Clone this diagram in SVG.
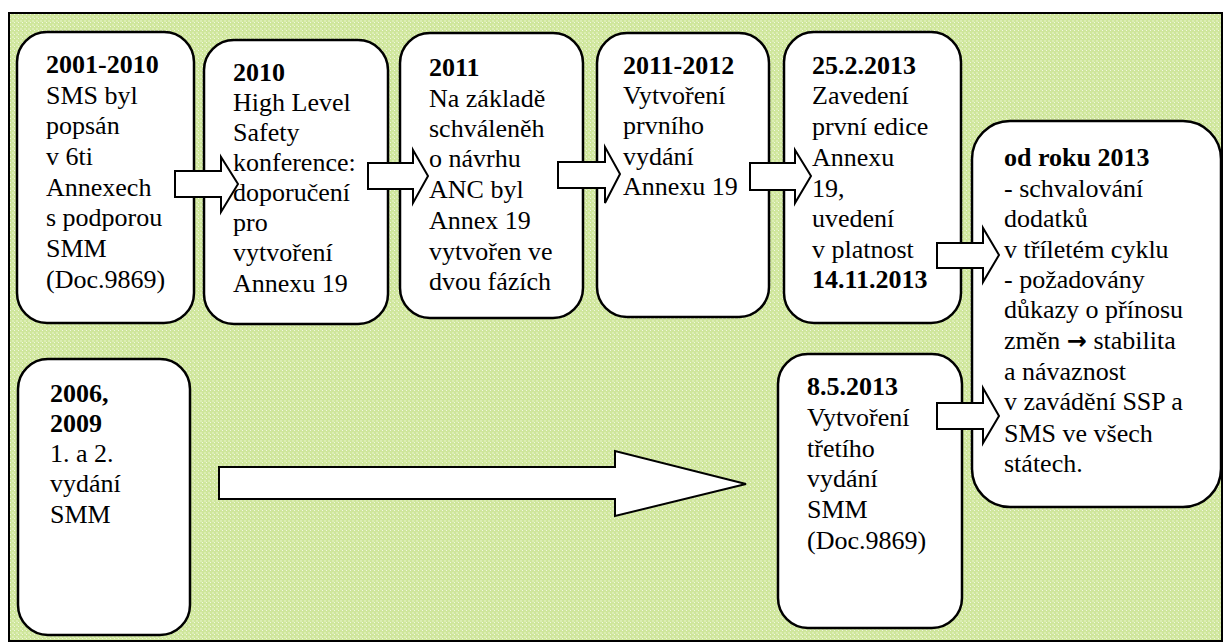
<svg xmlns="http://www.w3.org/2000/svg" width="1223" height="642" viewBox="0 0 1223 642">
<style>
.box{fill:#fff;stroke:#000;stroke-width:2.5}
.arr{fill:#fff;stroke:#000;stroke-width:2;stroke-linejoin:miter}
.t{font-family:'Liberation Serif','Times New Roman',serif;font-size:26px;fill:#000;white-space:pre}
.b{font-weight:bold}
.sym{font-family:'DejaVu Sans',sans-serif;font-weight:bold;font-size:24px}
</style>
<defs>
<pattern id="bg" width="4" height="4" patternUnits="userSpaceOnUse">
<rect width="4" height="4" fill="#cfe69c"/>
<rect x="0" y="0" width="2" height="2" fill="#dcedb4"/>
<rect x="2" y="2" width="1" height="1" fill="#f2f8e2"/>
</pattern>
</defs>
<rect x="0" y="0" width="1223" height="642" fill="#fff"/>
<rect x="9" y="13" width="1213" height="628" fill="url(#bg)" stroke="#000" stroke-width="2"/>

<g id="n1" class="t">
<rect class="box" x="17" y="32" width="177" height="291" rx="30"/>
<text x="46" y="73" class="b">2001-2010</text>
<text x="46" y="104">SMS byl</text>
<text x="46" y="134">popsán</text>
<text x="46" y="165">v 6ti</text>
<text x="46" y="196">Annexech</text>
<text x="46" y="226">s podporou</text>
<text x="46" y="257">SMM</text>
<text x="46" y="288">(Doc.9869)</text>
</g>

<g id="n2" class="t">
<rect class="box" x="204" y="40" width="184" height="284" rx="30"/>
<text x="233" y="81" class="b">2010</text>
<text x="233" y="111">High Level</text>
<text x="233" y="141">Safety</text>
<text x="233" y="171">konference:</text>
<text x="233" y="201">doporučení</text>
<text x="233" y="231">pro</text>
<text x="233" y="261">vytvoření</text>
<text x="233" y="292">Annexu 19</text>
</g>

<g id="n3" class="t">
<rect class="box" x="400" y="33" width="183" height="285" rx="30"/>
<text x="429" y="76" class="b">2011</text>
<text x="429" y="107">Na základě</text>
<text x="429" y="137">schváleněh</text>
<text x="429" y="167">o návrhu</text>
<text x="429" y="198">ANC byl</text>
<text x="429" y="229">Annex 19</text>
<text x="429" y="260">vytvořen ve</text>
<text x="429" y="290">dvou fázích</text>
</g>

<g id="n4" class="t">
<rect class="box" x="597" y="33" width="172" height="284" rx="30"/>
<text x="623" y="74" class="b">2011-2012</text>
<text x="623" y="104">Vytvoření</text>
<text x="623" y="134">prvního</text>
<text x="623" y="165">vydání</text>
<text x="623" y="195">Annexu 19</text>
</g>

<g id="n5" class="t">
<rect class="box" x="784" y="32" width="177" height="291" rx="30"/>
<text x="812" y="74" class="b">25.2.2013</text>
<text x="812" y="104">Zavedení</text>
<text x="812" y="135">první edice</text>
<text x="812" y="166">Annexu</text>
<text x="812" y="197">19,</text>
<text x="812" y="227">uvedení</text>
<text x="812" y="258">v platnost</text>
<text x="812" y="288" class="b">14.11.2013</text>
</g>

<g id="n6" class="t">
<rect class="box" x="972" y="121" width="249" height="386" rx="38"/>
<text x="1004" y="166" class="b">od roku 2013</text>
<text x="1004" y="197">- schvalování</text>
<text x="1004" y="227">dodatků</text>
<text x="1004" y="258">v tříletém cyklu</text>
<text x="1004" y="288">- požadovány</text>
<text x="1004" y="318">důkazy o  přínosu</text>
<text x="1004" y="349">změn <tspan class="sym">→</tspan> stabilita</text>
<text x="1004" y="380">a návaznost</text>
<text x="1004" y="410">v zavádění SSP a</text>
<text x="1004" y="442">SMS ve všech</text>
<text x="1004" y="472">státech.</text>
</g>

<g id="n7" class="t">
<rect class="box" x="778" y="354" width="184" height="274" rx="30"/>
<text x="807" y="395" class="b">8.5.2013</text>
<text x="807" y="426">Vytvoření</text>
<text x="807" y="457">třetího</text>
<text x="807" y="487">vydání</text>
<text x="807" y="518">SMM</text>
<text x="807" y="549">(Doc.9869)</text>
</g>

<g id="n8" class="t">
<rect class="box" x="18" y="359" width="172" height="276" rx="30"/>
<text x="50" y="402" class="b">2006,</text>
<text x="50" y="432" class="b">2009</text>
<text x="50" y="462">1. a 2.</text>
<text x="50" y="492">vydání</text>
<text x="50" y="523">SMM</text>
</g>

<g id="connectors">
<polygon class="arr" points="175,171 221,171 221,157 238,184 221,212 221,197 175,197"/>
<polygon class="arr" points="368,163 413,163 413,150 428,176 413,203 413,189 368,189"/>
<polygon class="arr" points="558,162 605,162 605,147 620,174 605,203 605,188 558,188"/>
<polygon class="arr" points="750,163 795,163 795,150 811,176 795,203 795,190 750,190"/>
<polygon class="arr" points="937,243 983,243 983,228 999,255 983,282 983,268 937,268"/>
<polygon class="arr" points="937,403 983,403 983,388 999,416 983,443 983,429 937,429"/>
<polygon class="arr" points="219,467 615,467 615,451 746,484 615,516 615,499 219,499"/>
</g>
</svg>
